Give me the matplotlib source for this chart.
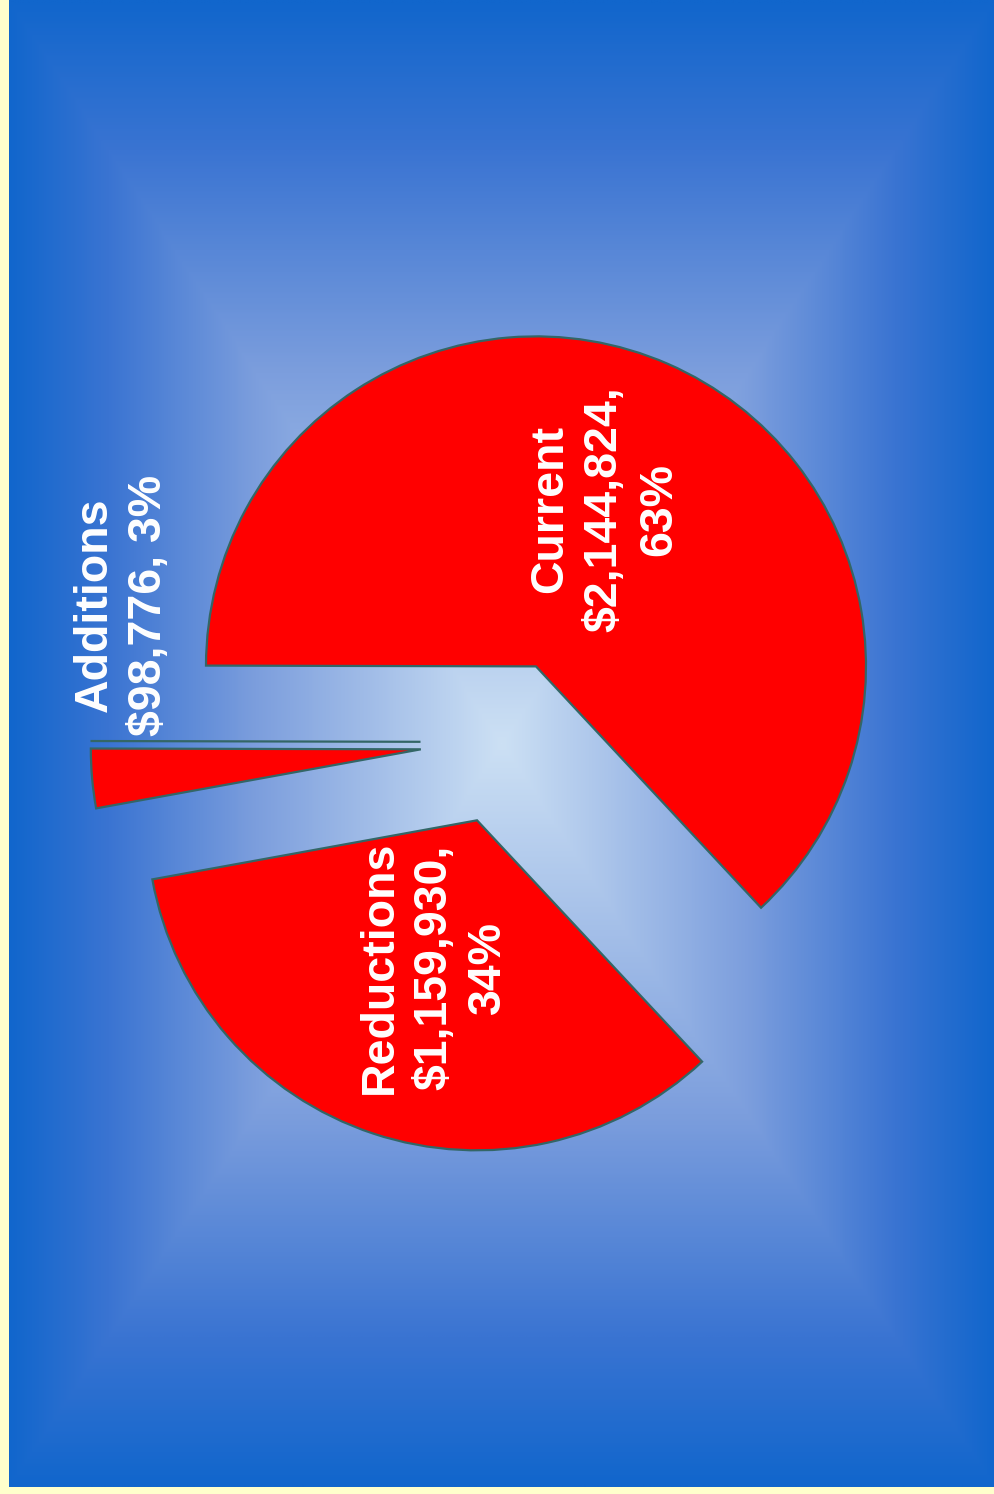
import numpy as np
import matplotlib
matplotlib.use('Agg')
import matplotlib.pyplot as plt
from matplotlib.colors import LinearSegmentedColormap

# data
categories = ['Current', '', 'Additions', 'Reductions']
amounts = [2144824, 0, 98776, 1159930]
percents = [63, 0, 3, 34]

W, H = 995, 1494
fig = plt.figure(figsize=(W / 100, H / 100), dpi=100, facecolor='#FFFFCC')
ax = fig.add_axes([0, 0, 1, 1])

# background: rectangular gradient, light in the middle, dark blue at the edges
x0, x1, y0, y1 = 9, W, 7, H
cx, cy = (x0 + x1) / 2, (y0 + y1) / 2
xx, yy = np.meshgrid(np.linspace(x0, x1, 500), np.linspace(y0, y1, 750))
t = np.maximum(np.abs(xx - cx) / ((x1 - x0) / 2), np.abs(yy - cy) / ((y1 - y0) / 2))
bg = LinearSegmentedColormap.from_list(
    'bg', [(0, '#CCE0F4'), (0.5, '#7C9EDD'), (0.8, '#3A74D2'), (1, '#1166CC')])
ax.imshow(t, cmap=bg, vmin=0, vmax=1, extent=(x0, x1, y0, y1), origin='lower',
          interpolation='bilinear', zorder=0)

# pie (chart is drawn turned a quarter turn)
R = 330
center = (503, H - 742)
wedges, _ = ax.pie(amounts, colors=['red'] * 4, startangle=-47, counterclock=True,
                   explode=[0.25 * R] * 4, radius=R, center=center,
                   wedgeprops=dict(edgecolor='#336666', linewidth=1.6))
for w in wedges:
    w.set_zorder(2)

font = dict(family=['Liberation Sans', 'DejaVu Sans'], weight='bold', size=33.5,
            color='white', rotation=90, ha='center', va='center',
            multialignment='center', linespacing=1.3, zorder=3)

# labels inside the two big slices, placed along each slice's bisector
for i, frac, dx in ((0, 0.52, 0), (3, 0.47, 6)):
    w = wedges[i]
    mid = np.deg2rad((w.theta1 + w.theta2) / 2)
    wx, wy = w.center
    txt = f"{categories[i]}\n${amounts[i]:,},\n{percents[i]}%"
    ax.text(wx + frac * R * np.cos(mid) + dx, wy + frac * R * np.sin(mid), txt, **font)

# small slice label sits outside
ax.text(122, H - 605, f"{categories[2]}\n${amounts[2]:,}, {percents[2]}%", **font)

ax.set_xlim(0, W)
ax.set_ylim(0, H)
ax.set_axis_off()

fig.savefig('out.png', dpi=100, facecolor=fig.get_facecolor())
